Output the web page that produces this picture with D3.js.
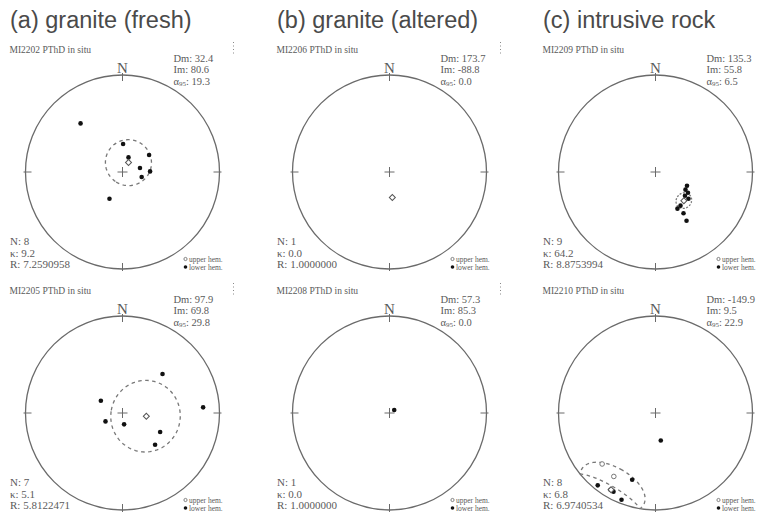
<!DOCTYPE html>
<html>
<head>
<meta charset="utf-8">
<script src="https://cdn.jsdelivr.net/npm/d3@7"></script>
<style>
  body { margin: 0; background: #fff; }
  svg { display: block; }
</style>
</head>
<body>
<svg id="chart" width="765" height="517"></svg>
<script>
// ---- data -------------------------------------------------------------
const panelTitles = ["(a) granite (fresh)", "(b) granite (altered)", "(c) intrusive rock"];
const sampleIds = ["MI2202", "MI2206", "MI2209", "MI2205", "MI2208", "MI2210"];
const meanDec = [32.4, 173.7, 135.3, 97.9, 57.3, -149.9];
const meanInc = [80.6, -88.8, 55.8, 69.8, 85.3, 9.5];
const alpha95 = [19.3, 0.0, 6.5, 29.8, 0.0, 22.9];
const countN = [8, 1, 9, 7, 1, 8];
const kappa = ["9.2", "0.0", "64.2", "5.1", "0.0", "6.8"];
const resultant = ["7.2590958", "1.0000000", "8.8753994", "5.8122471", "1.0000000", "6.9740534"];

// specimen directions, in situ (negative inclination = upper hemisphere)
const decMI2202 = [319.2, 1.2, 22.3, 57.4, 77.2, 88.8, 104.5, 206.0];
const incMI2202 = [34.2, 66.4, 76.8, 63.4, 75.0, 66.8, 73.4, 65.0];
const decMI2206 = [173.7];
const incMI2206 = [-68.4];
const decMI2209 = [113.5, 120.5, 122.5, 128.8, 143.4, 149.1, 145.8, 147.5, 129.0];
const incMI2209 = [61.0, 60.6, 57.4, 58.0, 54.4, 53.7, 47.4, 40.2, 54.0];
const decMI2205 = [45.7, 299.6, 86.0, 243.7, 172.0, 116.8, 134.2];
const incMI2205 = [41.9, 69.1, 17.8, 74.1, 80.4, 54.2, 51.3];
const decMI2208 = [57.3];
const incMI2208 = [85.3];
const decMI2210 = [169.1, 226.3, 213.3, 218.6, 210.4, 199.3, 201.4, 208.1];
const incMI2210 = [66.5, -24.9, -22.8, 5.1, 9.2, 28.0, 4.5, 8.9];

const panelDecs = [decMI2202, decMI2206, decMI2209, decMI2205, decMI2208, decMI2210];
const panelIncs = [incMI2202, incMI2206, incMI2209, incMI2205, incMI2208, incMI2210];

// ---- layout -----------------------------------------------------------
const colX = [122.5, 389.5, 655.5];
const rowY = [172, 413];
const R = 97;
const toRad = Math.PI / 180;
const serif = "'Liberation Serif', 'DejaVu Serif', serif";
const grey = "#6a6a6a";
const textGrey = "#5a5a5a";

// equal-area (Schmidt) radial scale: 0 at vertical, 1 at horizontal
const rScale = d3.scaleLinear().domain([0, 1]).range([0, R]);
function project(dec, inc) {
  const r = rScale(Math.SQRT2 * Math.sin((90 - Math.abs(inc)) / 2 * toRad));
  return [r * Math.sin(dec * toRad), -r * Math.cos(dec * toRad)];
}

// directions lying on a cone of half-angle a95 around a mean direction
function coneDirections(dec, inc, a95) {
  const D = dec * toRad, I = inc * toRad;
  const m = [Math.cos(I) * Math.cos(D), Math.cos(I) * Math.sin(D), Math.sin(I)];
  const u = [-Math.sin(I) * Math.cos(D), -Math.sin(I) * Math.sin(D), Math.cos(I)];
  const w = [-Math.sin(D), Math.cos(D), 0];
  const c = Math.cos(a95 * toRad), s = Math.sin(a95 * toRad);
  return d3.range(0, 361, 3).map(t => {
    const th = t * toRad;
    const v = m.map((mk, k) => c * mk + s * (Math.cos(th) * u[k] + Math.sin(th) * w[k]));
    return [Math.atan2(v[1], v[0]) / toRad, Math.asin(Math.max(-1, Math.min(1, v[2]))) / toRad];
  });
}

const svg = d3.select("#chart");

// column titles
panelTitles.forEach((t, i) => {
  svg.append("text")
    .attr("x", colX[i] - 112.5)
    .attr("y", 28)
    .attr("font-family", "'Liberation Sans', Arial, sans-serif")
    .attr("font-size", 23.5)
    .attr("fill", "#4a4a4a")
    .text(t);
});

sampleIds.forEach((id, i) => {
  const cx = colX[i % 3], cy = rowY[Math.floor(i / 3)];
  const g = svg.append("g").attr("transform", `translate(${cx},${cy})`);

  // header
  g.append("text").attr("x", -113).attr("y", -119.5)
    .attr("font-family", serif).attr("font-size", 9.5).attr("fill", textGrey)
    .text(`${id} PThD in situ`);

  // small dotted marker at the top right
  g.append("line").attr("x1", 111).attr("x2", 111).attr("y1", -130).attr("y2", -116)
    .attr("stroke", "#888").attr("stroke-width", 1).attr("stroke-dasharray", "1,2.5");

  // mean statistics
  const st = g.append("g").attr("font-family", serif).attr("font-size", 10.5).attr("fill", textGrey);
  st.append("text").attr("x", 51).attr("y", -110.5).text(`Dm: ${meanDec[i].toFixed(1)}`);
  st.append("text").attr("x", 51).attr("y", -99.5).text(`Im: ${meanInc[i].toFixed(1)}`);
  const a = st.append("text").attr("x", 51).attr("y", -87.5);
  a.append("tspan").text("α");
  a.append("tspan").attr("font-size", 7).attr("dy", 1).text("95");
  a.append("tspan").attr("dy", -1).text(`: ${alpha95[i].toFixed(1)}`);

  // primitive circle
  g.append("circle").attr("r", R).attr("fill", "none")
    .attr("stroke", grey).attr("stroke-width", 1.3);

  // cardinal ticks
  [0, 90, 180, 270].forEach(d => {
    const s = Math.sin(d * toRad), c = -Math.cos(d * toRad);
    g.append("line")
      .attr("x1", (R - 6) * s).attr("y1", (R - 6) * c)
      .attr("x2", (R + 2) * s).attr("y2", (R + 2) * c)
      .attr("stroke", grey).attr("stroke-width", 1);
  });
  g.append("text").attr("x", 0).attr("y", -R - 2)
    .attr("text-anchor", "middle").attr("font-family", serif)
    .attr("font-size", 15).attr("fill", textGrey).text("N");

  // centre cross
  g.append("line").attr("x1", -5).attr("x2", 5).attr("stroke", grey).attr("stroke-width", 1);
  g.append("line").attr("y1", -5).attr("y2", 5).attr("stroke", grey).attr("stroke-width", 1);

  // alpha95 confidence cone
  if (alpha95[i] > 0) {
    const pts = coneDirections(meanDec[i], meanInc[i], alpha95[i]).map(([d, inc]) => project(d, inc));
    g.append("path")
      .attr("d", d3.line()(pts))
      .attr("fill", "none")
      .attr("stroke", "#777")
      .attr("stroke-width", 1.3)
      .attr("stroke-dasharray", alpha95[i] < 10 ? "2,1.5" : "3.5,3.5");
  }

  // specimen directions
  panelDecs[i].forEach((d, k) => {
    const inc = panelIncs[i][k];
    const [x, y] = project(d, inc);
    if (inc >= 0) {
      g.append("circle").attr("cx", x).attr("cy", y).attr("r", 2.3).attr("fill", "#111");
    } else if (countN[i] === 1) {
      g.append("path").attr("transform", `translate(${x},${y}) rotate(45)`)
        .attr("d", d3.symbol(d3.symbolSquare, 18)())
        .attr("fill", "#fff").attr("stroke", "#555").attr("stroke-width", 1);
    } else {
      g.append("circle").attr("cx", x).attr("cy", y).attr("r", 2.3)
        .attr("fill", "#fff").attr("stroke", "#777").attr("stroke-width", 1);
    }
  });

  // mean direction
  if (countN[i] > 1) {
    const [mx, my] = project(meanDec[i], meanInc[i]);
    g.append("path").attr("transform", `translate(${mx},${my}) rotate(45)`)
      .attr("d", d3.symbol(d3.symbolSquare, 18)())
      .attr("fill", "#fff").attr("stroke", "#555").attr("stroke-width", 1);
  }

  // sample statistics
  const bs = g.append("g").attr("font-family", serif).attr("font-size", 11).attr("fill", textGrey);
  bs.append("text").attr("x", -112.5).attr("y", 73).text(`N: ${countN[i]}`);
  bs.append("text").attr("x", -112.5).attr("y", 85).text(`κ: ${kappa[i]}`);
  bs.append("text").attr("x", -112.5).attr("y", 96).text(`R: ${resultant[i]}`);

  // hemisphere legend
  const lg = g.append("g").attr("font-family", serif).attr("font-size", 7.5).attr("fill", textGrey);
  lg.append("circle").attr("cx", 63).attr("cy", 87).attr("r", 1.6)
    .attr("fill", "#fff").attr("stroke", "#666").attr("stroke-width", 0.8);
  lg.append("text").attr("x", 66.5).attr("y", 89.5).text("upper hem.");
  lg.append("circle").attr("cx", 63).attr("cy", 95).attr("r", 1.8).attr("fill", "#111");
  lg.append("text").attr("x", 66.5).attr("y", 97.5).text("lower hem.");
});
</script>
</body>
</html>
